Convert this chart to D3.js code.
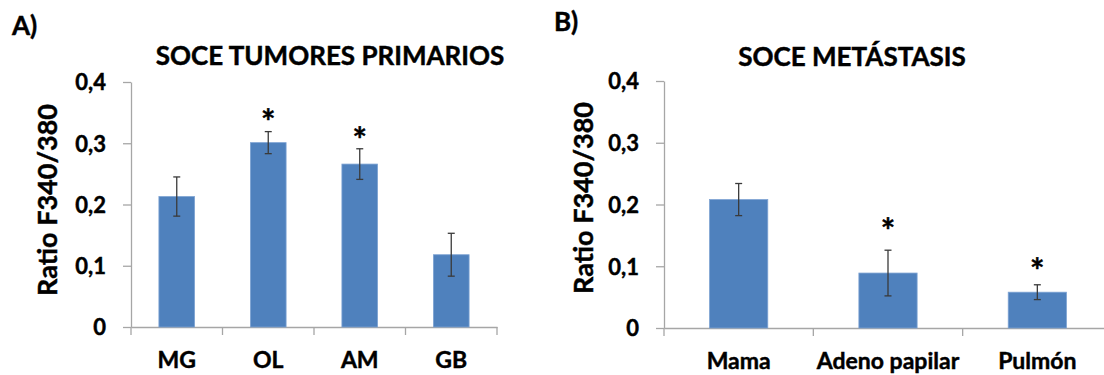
<!DOCTYPE html>
<html>
<head>
<meta charset="utf-8">
<script src="https://cdn.jsdelivr.net/npm/d3@7"></script>
<style>
body { margin: 0; background: #fff; }
svg text { font-family: Lato, "Open Sans", sans-serif; font-weight: bold; fill: #000; stroke: #000; stroke-width: 0.45px; }
</style>
</head>
<body>
<svg id="chart" width="1104" height="375"></svg>
<script>
// Panel A - tumores primarios
var catsA = ["MG", "OL", "AM", "GB"];
var valsA = [0.213, 0.301, 0.266, 0.118];
var errA = [0.032, 0.018, 0.025, 0.035];
var starA = [null, 0.348, 0.319, null];

// Panel B - metastasis
var catsB = ["Mama", "Adeno papilar", "Pulmón"];
var valsB = [0.208, 0.089, 0.058];
var errB = [0.026, 0.037, 0.012];
var starB = [null, 0.170, 0.106];

var yTicks = [0, 0.1, 0.2, 0.3, 0.4];

var svg = d3.select("#chart");

function fmt(d) {
    if (d === 0) return "0";
    return d3.format(".1f")(d).replace(".", ",");
}

function panel(cfg) {
    var g = svg.append("g");

    var x = d3.scaleBand()
        .domain(cfg.cats)
        .range([cfg.left, cfg.right])
        .padding(0);
    var y = d3.scaleLinear()
        .domain([0, 0.4])
        .range([cfg.bottom, cfg.top]);

    //Buchstabe + Titel
    g.append("text")
        .attr("x", cfg.letterX)
        .attr("y", cfg.letterY)
        .attr("font-size", 26)
        .text(cfg.letter);
    g.append("text")
        .attr("x", cfg.titleX)
        .attr("y", cfg.titleY)
        .attr("text-anchor", "middle")
        .attr("font-size", 26)
        .text(cfg.title);

    //y Achse
    var ya = g.append("g")
        .attr("transform", "translate(" + cfg.left + ",0)")
        .call(d3.axisLeft(y).tickValues(yTicks).tickFormat(fmt)
            .tickSize(8).tickSizeOuter(0).tickPadding(17));
    ya.select(".domain").attr("stroke", "#a6a6a6").attr("stroke-width", 1.3);
    ya.selectAll(".tick line").attr("stroke", "#a6a6a6").attr("stroke-width", 1.3);
    ya.selectAll(".tick text")
        .attr("font-size", 22)
        .attr("font-family", null)
        .attr("fill", "#000")
        .attr("dy", "0.36em");

    g.append("text")
        .attr("transform", "translate(" + cfg.ylabX + "," + cfg.ylabY + ") rotate(-90)")
        .attr("text-anchor", "middle")
        .attr("font-size", 27)
        .text("Ratio F340/380");

    //x Achse
    var xa = g.append("g")
        .attr("transform", "translate(0," + cfg.bottom + ")")
        .call(d3.axisBottom(x).tickSize(0).tickSizeOuter(0).tickPadding(0));
    xa.select(".domain").attr("stroke", "#a6a6a6").attr("stroke-width", 1.3);
    xa.selectAll(".tick text")
        .attr("font-size", 23)
        .attr("font-family", null)
        .attr("fill", "#000")
        .attr("y", 41)
        .attr("dy", 0);

    //Striche zwischen Kategorien
    var bounds = cfg.cats.map(function(c) { return x(c); }).concat([x.range()[1]]);
    g.selectAll("line.xtick")
        .data(bounds)
        .enter().append("line")
        .attr("class", "xtick")
        .attr("x1", function(d) { return d; })
        .attr("x2", function(d) { return d; })
        .attr("y1", cfg.bottom)
        .attr("y2", cfg.bottom + 8)
        .attr("stroke", "#a6a6a6")
        .attr("stroke-width", 1.3);

    var bw = x.bandwidth() * 0.39;
    var cx = function(c) { return x(c) + x.bandwidth() / 2; };

    //Balken
    g.selectAll("rect.bar")
        .data(cfg.cats)
        .enter().append("rect")
        .attr("class", "bar")
        .attr("x", function(c) { return cx(c) - bw / 2; })
        .attr("y", function(c, i) { return y(cfg.vals[i]); })
        .attr("width", bw)
        .attr("height", function(c, i) { return y(0) - y(cfg.vals[i]); })
        .attr("fill", "#4f81bd")
        .attr("stroke", "#7ea3d3")
        .attr("stroke-width", 0.8);

    //Fehlerbalken
    cfg.cats.forEach(function(c, i) {
        var hi = y(cfg.vals[i] + cfg.errs[i]);
        var lo = y(cfg.vals[i] - cfg.errs[i]);
        g.append("line")
            .attr("x1", cx(c)).attr("x2", cx(c))
            .attr("y1", hi).attr("y2", lo)
            .attr("stroke", "#3a3a3a").attr("stroke-width", 1.3);
        [hi, lo].forEach(function(yy) {
            g.append("line")
                .attr("x1", cx(c) - 3.5).attr("x2", cx(c) + 3.5)
                .attr("y1", yy).attr("y2", yy)
                .attr("stroke", "#3a3a3a").attr("stroke-width", 1.3);
        });
        if (cfg.stars[i] != null) {
            g.append("text")
                .attr("x", cx(c))
                .attr("y", y(cfg.stars[i]))
                .attr("dy", "0.6em")
                .attr("text-anchor", "middle")
                .attr("font-size", 34)
                .text("*");
        }
    });
}

panel({
    cats: catsA, vals: valsA, errs: errA, stars: starA,
    left: 131, right: 497, top: 82, bottom: 327,
    letter: "A)", letterX: 12, letterY: 35,
    title: "SOCE TUMORES PRIMARIOS", titleX: 330, titleY: 65,
    ylabX: 57, ylabY: 200
});

panel({
    cats: catsB, vals: valsB, errs: errB, stars: starB,
    left: 664, right: 1112, top: 81, bottom: 328,
    letter: "B)", letterX: 554, letterY: 31,
    title: "SOCE METÁSTASIS", titleX: 852, titleY: 66,
    ylabX: 593, ylabY: 198
});
</script>
</body>
</html>
